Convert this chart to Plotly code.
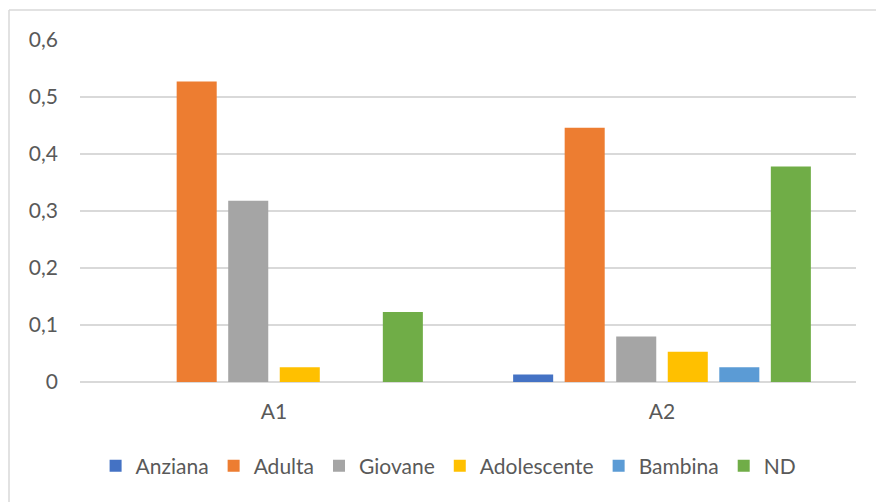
import plotly.graph_objects as go

# Categories and series values
categories = ["A1", "A2"]
series_names = ["Anziana", "Adulta", "Giovane", "Adolescente", "Bambina", "ND"]
anziana = [0.0, 0.013]
adulta = [0.527, 0.446]
giovane = [0.318, 0.080]
adolescente = [0.026, 0.053]
bambina = [0.0, 0.026]
nd = [0.123, 0.378]
y_ticks = [0, 0.1, 0.2, 0.3, 0.4, 0.5, 0.6]

series_values = [anziana, adulta, giovane, adolescente, bambina, nd]
colors = ["#4472C4", "#ED7D31", "#A5A5A5", "#FFC000", "#5B9BD5", "#70AD47"]

W, H = 876, 502
L, R, T, B = 80, 20, 40, 120
pw, ph = W - L - R, H - T - B

FONT = "Lato"
TXT = "#595959"
GRID = "#D9D9D9"

fig = go.Figure()
for name, vals, col in zip(series_names, series_values, colors):
    fig.add_trace(go.Bar(
        name=name, x=categories, y=vals,
        marker=dict(color=col, line=dict(width=0)),
    ))

# Chart frame (left and top edges)
def px_x(x):
    return (x - L) / pw

def px_y(y):
    return (H - B - y) / ph

frame = dict(color=GRID, width=1.5)
fig.add_shape(type="line", xref="paper", yref="paper",
              x0=px_x(9), x1=px_x(9), y0=px_y(10), y1=px_y(520), line=frame)
fig.add_shape(type="line", xref="paper", yref="paper",
              x0=px_x(9), x1=px_x(890), y0=px_y(10), y1=px_y(10), line=frame)

fig.update_layout(
    width=W, height=H,
    margin=dict(l=L, r=R, t=T, b=B),
    paper_bgcolor="white", plot_bgcolor="white",
    separators=",.",
    barmode="group",
    bargap=0.203,
    bargroupgap=0.223,
    font=dict(family=FONT, size=21, color=TXT),
    showlegend=True,
    legend=dict(
        orientation="h", x=0.475, xanchor="center",
        y=px_y(466), yanchor="middle",
        font=dict(family=FONT, size=21, color=TXT),
        itemclick=False, traceorder="normal",
    ),
    xaxis=dict(
        showgrid=False, showline=False, zeroline=False,
        ticks="", ticklabelstandoff=15,
        tickfont=dict(family=FONT, size=21, color=TXT),
    ),
    yaxis=dict(
        range=[0, 0.6], tickvals=y_ticks,
        showgrid=True, gridcolor=GRID, gridwidth=1.5,
        zeroline=True, zerolinecolor=GRID, zerolinewidth=1.5,
        showline=False, ticks="", ticklabelstandoff=21,
        tickfont=dict(family=FONT, size=21, color=TXT),
    ),
)

fig.write_html("out.html")
